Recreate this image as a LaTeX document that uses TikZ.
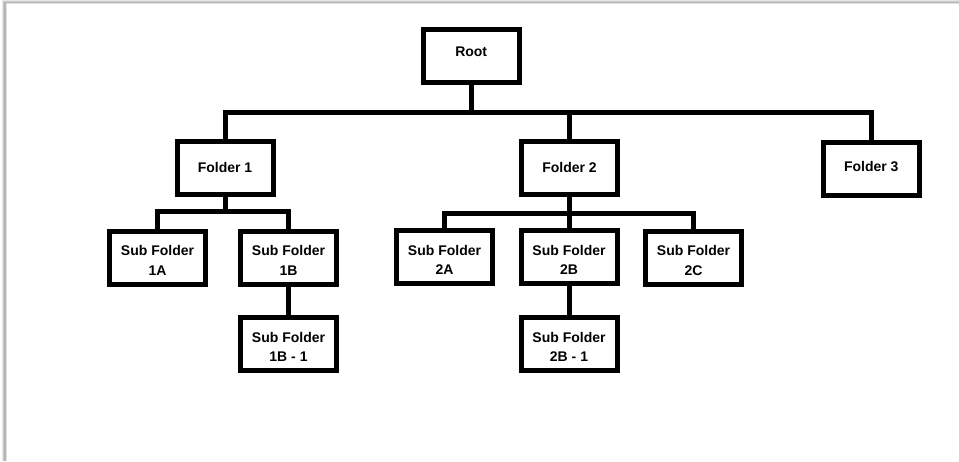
\documentclass[tikz,border=0pt]{standalone}
\usepackage{fontspec}
\setmainfont{Liberation Sans}
\begin{document}
\begin{tikzpicture}[x=1pt,y=-1pt,
  box/.style={draw=black, line width=5pt, minimum width=96pt, minimum height=53pt, inner sep=0pt, fill=white},
  lbl/.style={font=\fontsize{14}{19.3}\selectfont\bfseries, align=center, inner sep=0pt},
  conn/.style={line width=5pt, draw=black},
  shade/.style={line width=1pt}]
\useasboundingbox (0,0) rectangle (959,461);
% window shadow (left and top)
\draw[shade, gray!20] (2.5,1) -- (2.5,461);
\draw[shade, gray!40] (3.5,1) -- (3.5,461);
\draw[shade, gray!60] (4.5,1) -- (4.5,461);
\draw[shade, gray!55] (5.5,1) -- (5.5,461);
\draw[shade, gray!25] (6.5,2) -- (6.5,461);
\draw[shade, gray!20] (2,0.5) -- (959,0.5);
\draw[shade, gray!40] (3,1.5) -- (959,1.5);
\draw[shade, gray!55] (4,2.5) -- (959,2.5);
\draw[shade, gray!25] (6,3.5) -- (959,3.5);
% boxes
\node[box] (root) at (471.2,56.2) {};
\node[box] (f1) at (225,168) {};
\node[box] (f2) at (569.5,168) {};
\node[box] (f3) at (871.3,168.6) {};
\node[box] (s1a) at (157.5,257.5) {};
\node[box] (s1b) at (288.5,257.5) {};
\node[box] (s1b1) at (288.5,343.5) {};
\node[box] (s2a) at (444.5,257) {};
\node[box] (s2b) at (569,257) {};
\node[box] (s2c) at (693.5,257.5) {};
\node[box] (s2b1) at (569,344) {};
% labels
\node[lbl] (troot) at (471.2,52) {Root};
\node[lbl] (tf1) at (225,167) {Folder 1};
\node[lbl] (tf2) at (569.5,167) {Folder 2};
\node[lbl] (tf3) at (871.3,167) {Folder 3};
\node[lbl] (ts1a) at (157.5,260.3) {Sub Folder\\1A};
\node[lbl] (ts1b) at (288.5,260.3) {Sub Folder\\1B};
\node[lbl] (ts1b1) at (288.5,346.6) {Sub Folder\\1B - 1};
\node[lbl] (ts2a) at (444.5,260) {Sub Folder\\2A};
\node[lbl] (ts2b) at (569,260) {Sub Folder\\2B};
\node[lbl] (ts2c) at (693.5,260.5) {Sub Folder\\2C};
\node[lbl] (ts2b1) at (569,347) {Sub Folder\\2B - 1};
% connectors
\coordinate (j0) at (471.2,112);
\coordinate (j1) at (225,211);
\coordinate (j2) at (569.5,213);
\draw[conn] (root.south) -- (j0);
\draw[conn] (f1.north) |- (j0) -| (f3.north);
\draw[conn] (f2.north) -- (f2.north |- j0);
\draw[conn] (f1.south) -- (j1);
\draw[conn] (s1a.north) |- (j1) -| (s1b.north);
\draw[conn] (s1b.south) -- (s1b1.north);
\draw[conn] (f2.south) -- (j2);
\draw[conn] (s2a.north) |- (j2) -| (s2c.north);
\draw[conn] (s2b.north) -- (s2b.north |- j2);
\draw[conn] (s2b.south) -- (s2b1.north);
\end{tikzpicture}
\end{document}
